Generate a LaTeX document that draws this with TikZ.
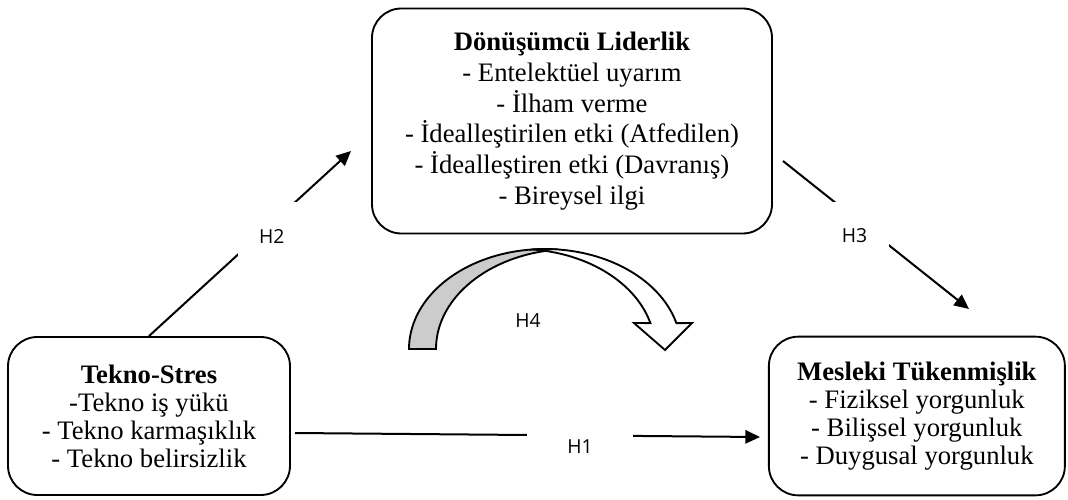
\documentclass[tikz,border=0pt]{standalone}
\usepackage{fontspec}
\setmainfont{Liberation Serif}
\newfontfamily\hypfont{Open Sans}
\usetikzlibrary{positioning, arrows.meta}

\begin{document}
\begin{tikzpicture}[
    x=0.75pt, y=-0.75pt,
    box/.style={draw, line width=1.4pt, rounded corners=22pt, align=center, font=\fontsize{20}{21}\selectfont},
    arr/.style={-{Triangle[length=11pt, width=10pt]}, line width=1.5pt},
    hyp/.style={font=\hypfont\fontsize{14.5}{16}\selectfont, fill=white, inner sep=0pt}
]
\useasboundingbox (0,0) rectangle (1068,500);

% Nodes
\node (lider) [box, minimum width=300pt, minimum height=168.75pt] at (572,121) {\textbf{Dönüşümcü Liderlik}\\[2pt]- Entelektüel uyarım\\[2pt]- İlham verme\\[2pt]- İdealleştirilen etki (Atfedilen)\\[2pt]- İdealleştiren etki (Davranış)\\[2pt]- Bireysel ilgi};
\node (tekno) [box, minimum width=211.5pt, minimum height=118.5pt] at (149,416) {\textbf{Tekno-Stres}\\-Tekno iş yükü\\- Tekno karmaşıklık\\- Tekno belirsizlik};
\node (mesleki) [box, minimum width=222pt, minimum height=119pt, right=357.75pt of tekno] {\textbf{Mesleki Tükenmişlik}\\- Fiziksel yorgunluk\\- Bilişsel yorgunluk\\- Duygusal yorgunluk};

% Free ends
\coordinate (h2e) at (351,151);
\coordinate (h3s) at (783,161);
\coordinate (h3e) at (969,309);
\coordinate (h1s) at (295,433);
\coordinate (h1e) at (760,437);

% Arrows
\draw[arr] (tekno.north) -- (h2e) node[hyp, pos=0.575, minimum size=51pt, xshift=5pt, yshift=-5pt] (h2) {H2};
\draw[arr] (h3s) -- (h3e) node[hyp, pos=0.431, minimum size=51pt, xshift=-6.4pt, yshift=-8.2pt] (h3) {H3};
\draw[arr] (h1s) -- (h1e) node[hyp, pos=0.613, minimum width=79.5pt, minimum height=27pt, yshift=-8pt] (h1) {H1};

% Curved arrow
\filldraw[fill=black!20, line width=1.4pt] (409,349) arc[start angle=180, end angle=275.7, x radius=136, y radius=100]
    arc[start angle=264.3, end angle=180, x radius=136, y radius=100] -- cycle;
\filldraw[fill=white, line width=1.4pt, line join=miter] (532,249.5) arc[start angle=264.5, end angle=345, x radius=136, y radius=100]
    -- (692,323) -- (665,350) -- (634,323) -- (650.4,323.1)
    arc[start angle=345, end angle=275.5, x radius=136, y radius=100] -- cycle;
\node[hyp, fill=none] (h4) at (528,321) {H4};

\end{tikzpicture}
\end{document}
